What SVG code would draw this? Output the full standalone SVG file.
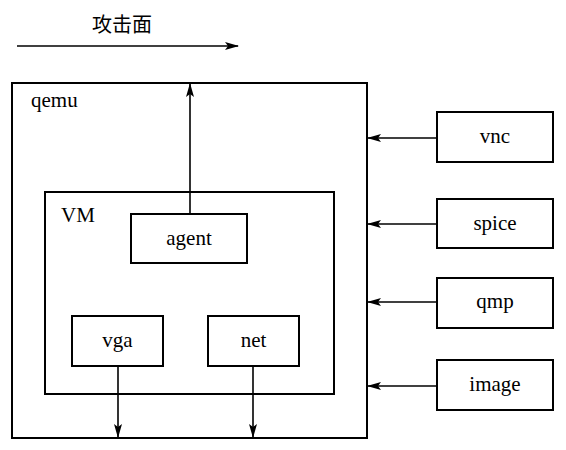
<svg xmlns="http://www.w3.org/2000/svg" width="566" height="450" viewBox="0 0 566 450">
<style>
.box{fill:none;stroke:#000;stroke-width:2}
.t{font-family:"Liberation Serif","Times New Roman",serif;font-size:21px;fill:#000}
.c{text-anchor:middle}
.ln{stroke:#000;stroke-width:1.6;fill:none}
</style>
<defs>
<marker id="ah" markerWidth="14" markerHeight="8" refX="13" refY="4" orient="auto" markerUnits="userSpaceOnUse">
<path d="M0,0 L14,4 L0,8 L3,4 Z" fill="#000"/>
</marker>
</defs>
<rect width="566" height="450" fill="#fff"/>
<text x="122" y="32" class="c" style="font-family:'Noto Sans CJK SC','Liberation Serif',serif;font-size:20px">攻击面</text>
<g id="qemu"><rect class="box" x="12" y="83" width="355" height="355"/><text class="t" x="31" y="107">qemu</text></g>
<g id="vm"><rect class="box" x="45" y="192" width="289" height="202"/><text class="t" x="61" y="222">VM</text></g>
<g id="agent"><rect class="box" x="131" y="214" width="116" height="49"/><text class="t c" x="189" y="245">agent</text></g>
<g id="vga"><rect class="box" x="72" y="316" width="91" height="50"/><text class="t c" x="117.5" y="347">vga</text></g>
<g id="net"><rect class="box" x="208" y="316" width="91" height="50"/><text class="t c" x="253.5" y="347">net</text></g>
<g id="vnc"><rect class="box" x="437" y="112" width="116" height="50"/><text class="t c" x="495" y="143">vnc</text></g>
<g id="spice"><rect class="box" x="437" y="199" width="116" height="49"/><text class="t c" x="495" y="230">spice</text></g>
<g id="qmp"><rect class="box" x="437" y="278" width="116" height="50"/><text class="t c" x="495" y="308">qmp</text></g>
<g id="image"><rect class="box" x="437" y="360" width="116" height="50"/><text class="t c" x="495" y="391">image</text></g>
<g id="connectors">
<line class="ln" x1="17" y1="46" x2="238" y2="46" marker-end="url(#ah)"/>
<line class="ln" x1="190" y1="214" x2="190" y2="84" marker-end="url(#ah)"/>
<line class="ln" x1="118" y1="366" x2="118" y2="437" marker-end="url(#ah)"/>
<line class="ln" x1="253" y1="366" x2="253" y2="437" marker-end="url(#ah)"/>
<line class="ln" x1="437" y1="138" x2="368" y2="138" marker-end="url(#ah)"/>
<line class="ln" x1="437" y1="224" x2="368" y2="224" marker-end="url(#ah)"/>
<line class="ln" x1="437" y1="302" x2="368" y2="302" marker-end="url(#ah)"/>
<line class="ln" x1="437" y1="386" x2="368" y2="386" marker-end="url(#ah)"/>
</g>
</svg>
